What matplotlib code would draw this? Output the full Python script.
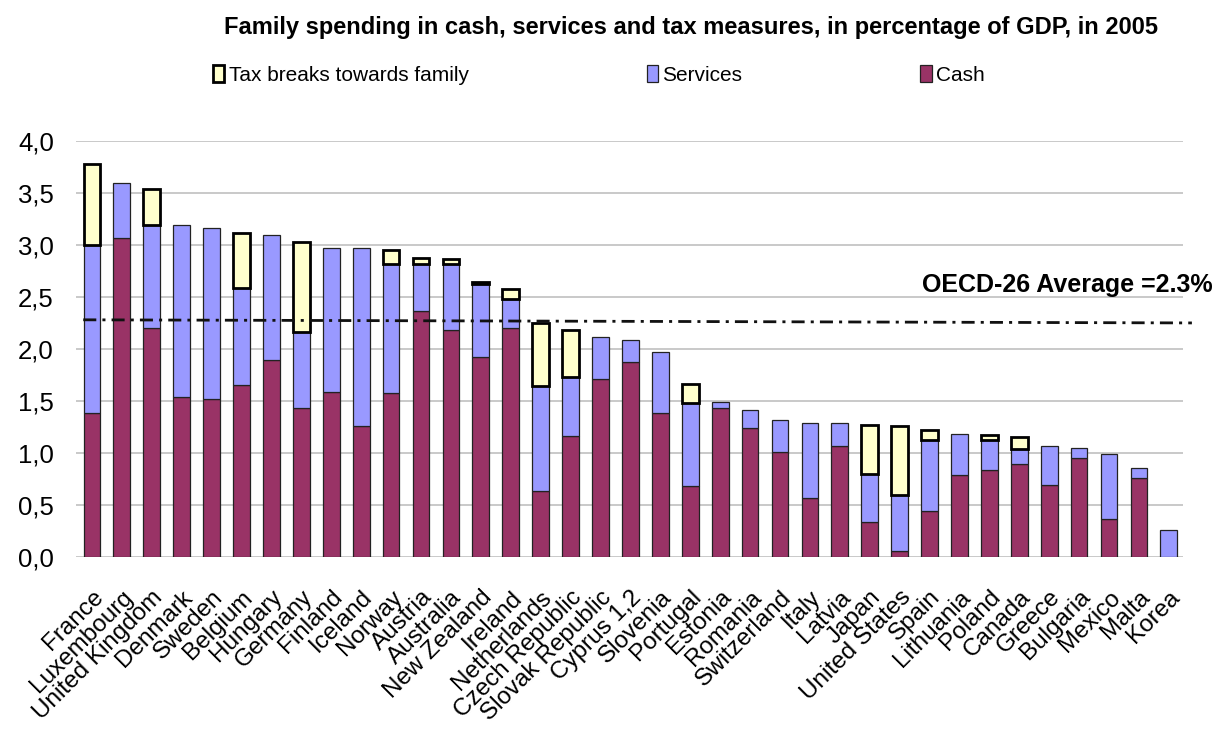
import numpy as np
import matplotlib
matplotlib.use("Agg")
import matplotlib.pyplot as plt
from matplotlib.patches import Patch

plt.rcParams["font.family"] = ["Liberation Sans", "DejaVu Sans"]

# Family spending by country, % of GDP (2005)
countries = [
    "France", "Luxembourg", "United Kingdom", "Denmark", "Sweden", "Belgium",
    "Hungary", "Germany", "Finland", "Iceland", "Norway", "Austria",
    "Australia", "New Zealand", "Ireland", "Netherlands", "Czech Republic",
    "Slovak Republic", "Cyprus 1,2", "Slovenia", "Portugal", "Estonia",
    "Romania", "Switzerland", "Italy", "Latvia", "Japan", "United States",
    "Spain", "Lithuania", "Poland", "Canada", "Greece", "Bulgaria", "Mexico",
    "Malta", "Korea",
]
cash = [
    1.38, 3.07, 2.20, 1.54, 1.52, 1.65, 1.89, 1.43, 1.59, 1.26, 1.58, 2.36,
    2.18, 1.92, 2.20, 0.63, 1.16, 1.71, 1.87, 1.38, 0.68, 1.43, 1.24, 1.01,
    0.57, 1.07, 0.34, 0.06, 0.44, 0.79, 0.84, 0.89, 0.69, 0.95, 0.37, 0.76,
    0.00,
]
services = [
    1.62, 0.53, 0.99, 1.65, 1.64, 0.94, 1.21, 0.73, 1.38, 1.71, 1.24, 0.46,
    0.64, 0.70, 0.28, 1.01, 0.57, 0.40, 0.22, 0.59, 0.80, 0.06, 0.17, 0.31,
    0.72, 0.22, 0.46, 0.54, 0.68, 0.39, 0.28, 0.15, 0.38, 0.10, 0.62, 0.10,
    0.26,
]
tax_breaks = [
    0.78, 0.00, 0.35, 0.00, 0.00, 0.52, 0.00, 0.87, 0.00, 0.00, 0.13, 0.05,
    0.04, 0.02, 0.10, 0.61, 0.45, 0.00, 0.00, 0.00, 0.18, 0.00, 0.00, 0.00,
    0.00, 0.00, 0.47, 0.66, 0.10, 0.00, 0.05, 0.11, 0.00, 0.00, 0.00, 0.00,
    0.00,
]
avg_line = [2.28, 2.25]   # OECD-26 average line, left and right ends

CASH_C = "#993366"
SERV_C = "#9999ff"
TAX_C = "#ffffcc"

fig = plt.figure(figsize=(12.17, 7.30), dpi=100)
ax = fig.add_axes([0.0625, 0.237, 0.9095, 0.570])

x = np.arange(len(countries))
cash = np.array(cash)
services = np.array(services)
tax_breaks = np.array(tax_breaks)
w = 0.56

ax.bar(x, cash, w, color=CASH_C, edgecolor="#222222", linewidth=0.9, zorder=2)
ax.bar(x, services, w, bottom=cash, color=SERV_C, edgecolor="#222222",
       linewidth=0.9, zorder=2)
has_tax = tax_breaks > 0
ax.bar(x[has_tax], tax_breaks[has_tax], w, bottom=(cash + services)[has_tax],
       color=TAX_C, edgecolor="black", linewidth=2.0, zorder=3)

# OECD average (dash-dot, drawn over the bars)
ax.plot([-0.29, 36.77], avg_line, color="#111111", lw=2.0,
        ls=(0, (4.7, 2.2, 1.1, 2.2)), zorder=4, clip_on=False)
ax.text(27.74, 2.61, f"OECD-26 Average ={np.mean(avg_line):.1f}%",
        fontsize=18, fontweight="bold", ha="left", va="center", zorder=5)

ax.set_xlim(-0.53, 36.47)
ax.set_ylim(0, 4.0)
ax.set_yticks(np.arange(0, 4.01, 0.5))
ax.set_yticklabels([f"{v:.1f}".replace(".", ",") for v in np.arange(0, 4.01, 0.5)],
                   fontsize=18.5)
ax.set_xticks(x)
ax.set_xticklabels(countries, rotation=45, ha="right", rotation_mode="anchor",
                   fontsize=17.5)
ax.tick_params(axis="both", length=0)
ax.tick_params(axis="x", pad=21)
ax.tick_params(axis="y", pad=16)
ax.grid(axis="y", color="#c0c0c0", linewidth=1.2, zorder=0)
ax.set_axisbelow(True)
for s in ax.spines.values():
    s.set_visible(False)

fig.text(0.568, 0.963, "Family spending in cash, services and tax measures, "
         "in percentage of GDP, in 2005", fontsize=17, fontweight="bold",
         ha="center", va="center")

handles = [
    Patch(facecolor=TAX_C, edgecolor="black", linewidth=2.0),
    Patch(facecolor=SERV_C, edgecolor="#222222", linewidth=0.9),
    Patch(facecolor=CASH_C, edgecolor="#222222", linewidth=0.9),
]
fig.legend(handles, ["Tax breaks towards family", "Services", "Cash"],
           loc="center left", bbox_to_anchor=(0.175, 0.897), ncol=3,
           frameon=False, fontsize=15, handlelength=0.55, handleheight=0.85,
           handletextpad=0.2, columnspacing=8.55, borderpad=0, borderaxespad=0)

fig.savefig("out.png", dpi=100)
